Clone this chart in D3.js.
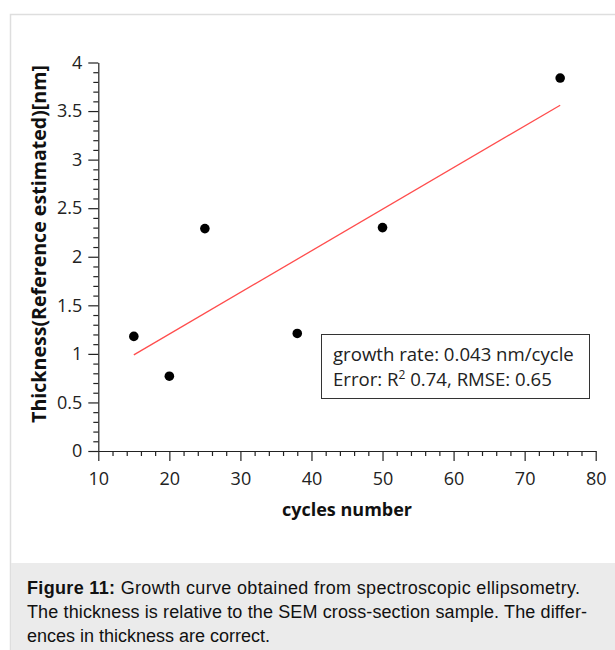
<!DOCTYPE html>
<html>
<head>
<meta charset="utf-8">
<script src="https://cdn.jsdelivr.net/npm/d3@7"></script>
<style>
  body { margin: 0; background: #fff; }
  svg { display: block; }
</style>
</head>
<body>
<svg id="chart" width="615" height="650"></svg>
<script>
// Data.
var cycles = [15, 20, 25, 38, 50, 75];
var thickness = [1.18, 0.77, 2.29, 1.21, 2.30, 3.84];
// Linear fit drawn in red (end points of the line).
var fitCycles = [15, 75];
var fitThickness = [0.99, 3.56];

var xTicks = [10, 20, 30, 40, 50, 60, 70, 80];
var yTicks = [0, 0.5, 1, 1.5, 2, 2.5, 3, 3.5, 4];
var xTitle = 'cycles number';
var yTitle = 'Thickness(Reference estimated)[nm]';
var noteLines = ['growth rate: 0.043 nm/cycle', 'Error: R', '2', ' 0.74, RMSE: 0.65'];
var captionBold = 'Figure 11:';
var captionLines = [
  ' Growth curve obtained from spectroscopic ellipsometry.',
  'The thickness is relative to the SEM cross-section sample. The differ-',
  'ences in thickness are correct.'
];

// Layout.
var X0 = 98.3, X1 = 595.7;
var Y0 = 451, Y1 = 62.5;
var TICK_FONT = '"Open Sans", "Noto Sans", sans-serif';

var svg = d3.select('#chart');

// Figure frame and caption panel.
svg.append('rect')
  .attr('x', 10.5).attr('y', 14.5)
  .attr('width', 620).attr('height', 650)
  .attr('fill', '#fff')
  .attr('stroke', '#dedede')
  .attr('stroke-width', 1.5);
svg.append('rect')
  .attr('x', 11).attr('y', 563)
  .attr('width', 604).attr('height', 87)
  .attr('fill', '#ebebeb');

var x = d3.scaleLinear().domain([10, 80]).range([X0, X1]);
var y = d3.scaleLinear().domain([0, 4]).range([Y0, Y1]);

var minorX = d3.range(10, 80.01, 2).filter(function(v){ return v % 10 !== 0; });
var minorY = d3.range(0, 4.001, 0.1)
  .map(function(v){ return Math.round(v * 10) / 10; })
  .filter(function(v){ return Math.round(v * 10) % 5 !== 0; });

// Minor ticks first, then the main axes.
svg.append('g')
  .attr('transform', 'translate(0,' + Y0 + ')')
  .call(d3.axisBottom(x).tickValues(minorX).tickSize(5).tickSizeOuter(0).tickFormat(''))
  .call(function(g){ g.select('.domain').remove(); });
svg.append('g')
  .attr('transform', 'translate(' + X0 + ',0)')
  .call(d3.axisLeft(y).tickValues(minorY).tickSize(5).tickSizeOuter(0).tickFormat(''))
  .call(function(g){ g.select('.domain').remove(); });

svg.append('g')
  .attr('transform', 'translate(0,' + Y0 + ')')
  .call(d3.axisBottom(x).tickValues(xTicks).tickSize(10).tickSizeOuter(0).tickPadding(11)
    .tickFormat(d3.format('d')));
svg.append('g')
  .attr('transform', 'translate(' + X0 + ',0)')
  .call(d3.axisLeft(y).tickValues(yTicks).tickSize(10).tickSizeOuter(0).tickPadding(6)
    .tickFormat(function(d){ return String(d); }));

svg.selectAll('.tick line, .domain')
  .attr('stroke', '#222')
  .attr('stroke-width', 1.2);
svg.selectAll('.tick text')
  .attr('fill', '#222')
  .style('font-family', TICK_FONT)
  .style('font-size', '18px');

// Axis titles.
svg.append('text')
  .attr('x', (X0 + X1) / 2).attr('y', 516)
  .attr('text-anchor', 'middle')
  .style('font-family', TICK_FONT)
  .style('font-size', '18px')
  .style('font-weight', 'bold')
  .attr('fill', '#111')
  .text(xTitle);
svg.append('text')
  .attr('transform', 'translate(46,244) rotate(-90)')
  .attr('text-anchor', 'middle')
  .style('font-family', TICK_FONT)
  .style('font-size', '19.6px')
  .style('font-weight', 'bold')
  .attr('fill', '#111')
  .text(yTitle);

// Fit line.
var fit = fitCycles.map(function(c, i){ return [c, fitThickness[i]]; });
svg.append('path')
  .datum(fit)
  .attr('fill', 'none')
  .attr('stroke', '#ff4d4d')
  .attr('stroke-width', 1.3)
  .attr('d', d3.line().x(function(d){ return x(d[0]); }).y(function(d){ return y(d[1]); }));

// Measured points.
svg.selectAll('circle.pt')
  .data(cycles)
  .enter()
  .append('circle')
  .attr('class', 'pt')
  .attr('cx', function(d){ return x(d); })
  .attr('cy', function(d, i){ return y(thickness[i]); })
  .attr('r', 4.8)
  .attr('fill', '#000');

// Annotation box.
svg.append('rect')
  .attr('x', 321.5).attr('y', 334.5)
  .attr('width', 268).attr('height', 64)
  .attr('fill', '#fff')
  .attr('stroke', '#333')
  .attr('stroke-width', 1);
var note = svg.append('g')
  .style('font-family', TICK_FONT)
  .style('font-size', '18.6px')
  .attr('fill', '#222');
note.append('text').attr('x', 333).attr('y', 361).text(noteLines[0]);
var l2 = note.append('text').attr('x', 333).attr('y', 386);
l2.append('tspan').text(noteLines[1]);
l2.append('tspan').attr('dy', -7).style('font-size', '12px').text(noteLines[2]);
l2.append('tspan').attr('dy', 7).text(noteLines[3]);

// Caption.
var cap = svg.append('g')
  .style('font-family', '"Liberation Sans", Arial, Helvetica, sans-serif')
  .style('font-size', '18px')
  .attr('fill', '#111');
var c1 = cap.append('text').attr('x', 27).attr('y', 594)
  .attr('textLength', 553).attr('lengthAdjust', 'spacing');
c1.append('tspan').style('font-weight', 'bold').text(captionBold);
c1.append('tspan').text(captionLines[0]);
cap.append('text').attr('x', 27).attr('y', 618)
  .attr('textLength', 560).attr('lengthAdjust', 'spacing')
  .text(captionLines[1]);
cap.append('text').attr('x', 27).attr('y', 642).text(captionLines[2]);
</script>
</body>
</html>
